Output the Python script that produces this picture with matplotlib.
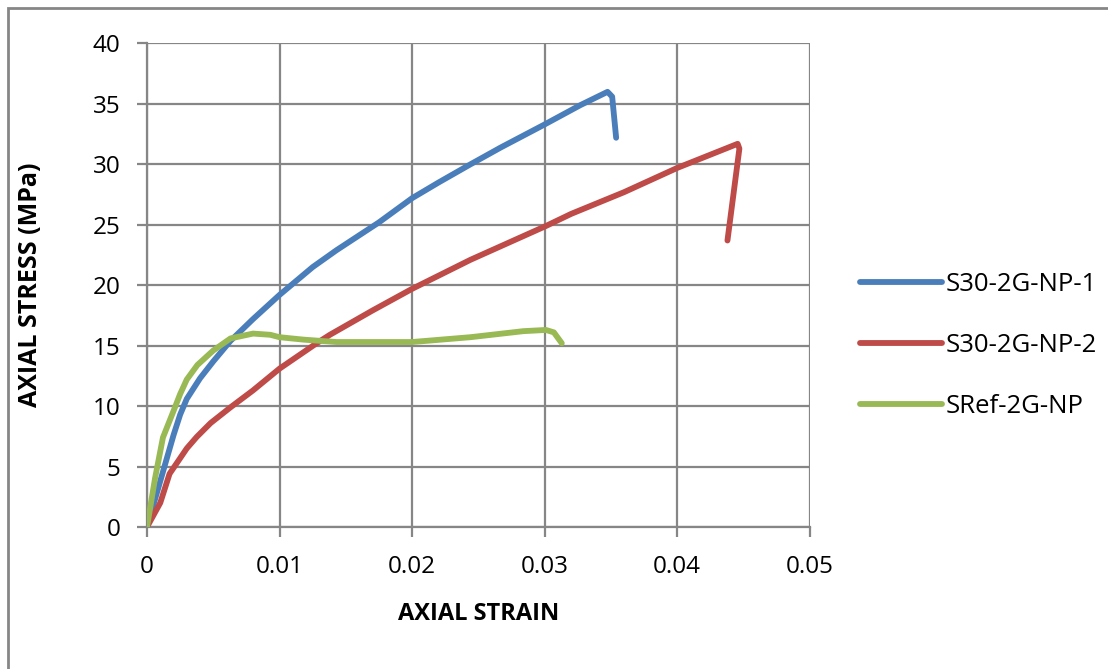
import matplotlib
matplotlib.use("Agg")
import matplotlib.pyplot as plt
from matplotlib.patches import Rectangle

plt.rcParams['font.family'] = ['Open Sans', 'DejaVu Sans']

# S30-2G-NP-1
strain_1 = [0, 0.001, 0.002, 0.0025, 0.003, 0.004, 0.005, 0.0063, 0.008, 0.0093,
            0.01, 0.0125, 0.0143, 0.0175, 0.02, 0.022, 0.0244, 0.0267, 0.03,
            0.0327, 0.03475, 0.0351, 0.0354]
stress_1 = [0, 3.8, 7.6, 9.3, 10.6, 12.3, 13.7, 15.4, 17.2, 18.5,
            19.2, 21.5, 22.9, 25.2, 27.2, 28.5, 30.0, 31.4, 33.3,
            34.9, 36.0, 35.6, 32.2]

# S30-2G-NP-2
strain_2 = [0, 0.001, 0.0017, 0.003, 0.00375, 0.0048, 0.0063, 0.008, 0.01,
            0.0128, 0.0138, 0.017, 0.02, 0.0244, 0.0301, 0.032, 0.036, 0.04,
            0.04457, 0.0447, 0.0438]
stress_2 = [0, 2.0, 4.4, 6.5, 7.45, 8.6, 9.9, 11.3, 13.1,
            15.2, 15.9, 17.9, 19.7, 22.1, 24.9, 25.9, 27.7, 29.7,
            31.7, 31.3, 23.7]

# SRef-2G-NP
strain_3 = [0, 0.0006, 0.0012, 0.002, 0.0025, 0.003, 0.0038, 0.005, 0.0063, 0.008,
            0.0093, 0.01, 0.0118, 0.0143, 0.02, 0.0244, 0.0284, 0.0301, 0.0307,
            0.0313]
stress_3 = [0, 4.0, 7.4, 9.6, 11.0, 12.2, 13.4, 14.6, 15.6, 16.0,
            15.9, 15.7, 15.5, 15.3, 15.3, 15.7, 16.2, 16.3, 16.1,
            15.2]

series_names = ['S30-2G-NP-1', 'S30-2G-NP-2', 'SRef-2G-NP']
series_colors = ['#4a7ebb', '#be4b48', '#98b954']

x_ticks = [0, 0.01, 0.02, 0.03, 0.04, 0.05]
x_tick_labels = ['0', '0.01', '0.02', '0.03', '0.04', '0.05']
y_ticks = [0, 5, 10, 15, 20, 25, 30, 35, 40]

fig = plt.figure(figsize=(11.08, 6.69), dpi=100)
ax = fig.add_axes([0.1327, 0.2123, 0.598, 0.7227])

grid_col = '#868686'

data = [(strain_1, stress_1), (strain_2, stress_2), (strain_3, stress_3)]
for (sx, sy), name, col in zip(data, series_names, series_colors):
    ax.plot(sx, sy, color=col, lw=4.2, label=name,
            solid_joinstyle='round', solid_capstyle='round', zorder=3)

ax.set_xlim(0, 0.05)
ax.set_ylim(0, 40)
ax.set_xticks(x_ticks)
ax.set_xticklabels(x_tick_labels)
ax.set_yticks(y_ticks)
ax.grid(True, color=grid_col, lw=1.6)
ax.set_axisbelow(True)

for side in ['top', 'right']:
    ax.spines[side].set_visible(False)
for side in ['left', 'bottom']:
    ax.spines[side].set_color(grid_col)
    ax.spines[side].set_linewidth(1.6)

ax.tick_params(axis='both', direction='out', length=7, width=1.6,
               color=grid_col, labelsize=17.5)
ax.tick_params(axis='y', pad=12)
ax.tick_params(axis='x', pad=13)

ax.set_xlabel('AXIAL STRAIN', fontsize=17, fontweight='bold', labelpad=17)
ax.set_ylabel('AXIAL STRESS (MPa)', fontsize=18, fontweight='bold', labelpad=36)

leg = ax.legend(loc='center left', bbox_to_anchor=(1.041, 0.376), frameon=False,
                fontsize=18.5, handlelength=3.2, handletextpad=0.15,
                labelspacing=1.4)

# outer chart border (only left and top visible in crop)
fig.patches.append(Rectangle((8 / 1108, -0.1), 1.2, 0.1 + 661 / 669,
                             transform=fig.transFigure, fill=False,
                             edgecolor=grid_col, lw=2))

fig.savefig('out.png', dpi=100)
